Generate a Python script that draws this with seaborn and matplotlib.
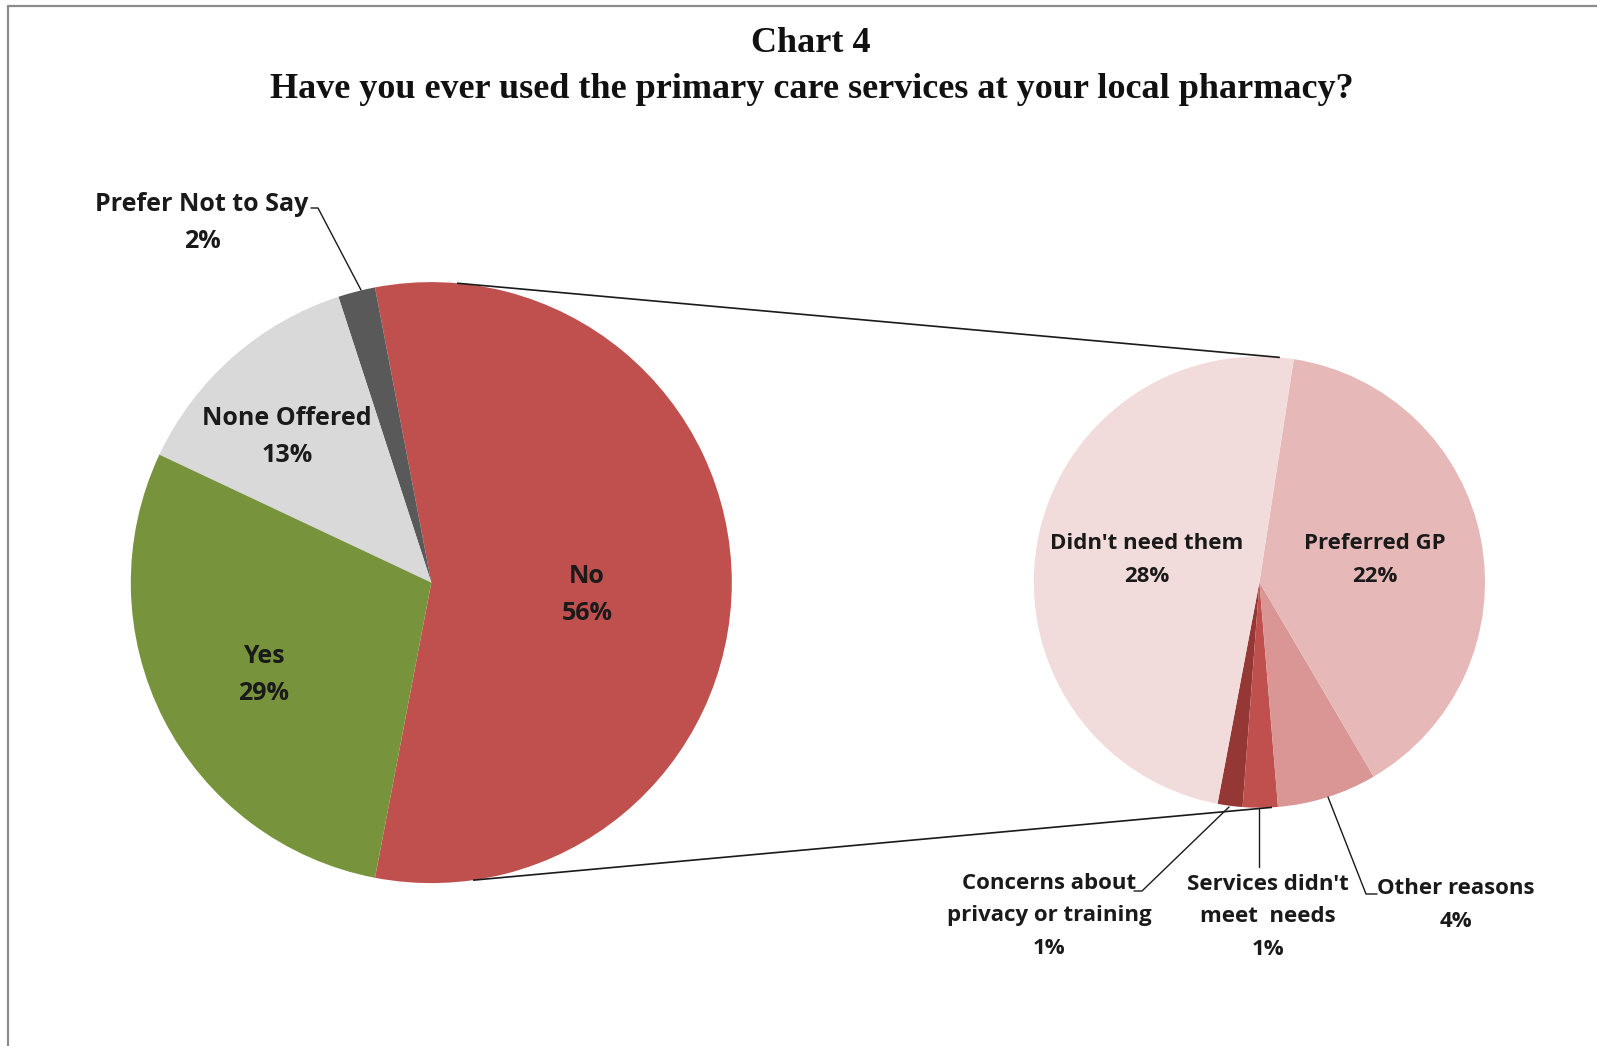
import numpy as np
import matplotlib
matplotlib.use("Agg")
import matplotlib.pyplot as plt
from matplotlib.lines import Line2D
import seaborn as sns

# Survey answers (percent of all respondents)
main_labels = ["No", "Prefer Not to Say", "None Offered", "Yes"]
main_values = [56, 2, 13, 29]
main_colors = ["#C0504D", "#595959", "#D9D9D9", "#77933C"]

# Reasons given by those who answered "No" (percent of all respondents)
sub_labels = ["Concerns about\nprivacy or training", "Services didn't\nmeet  needs",
              "Other reasons", "Preferred GP", "Didn't need them"]
sub_values = [1.0, 1.4, 4.0, 21.9, 27.7]
sub_colors = ["#953735", "#C0504D", "#D99694", "#E6B9B8", "#F2DCDB"]

title_lines = ["Chart 4", "Have you ever used the primary care services at your local pharmacy?"]

W, H = 1597, 1046
sns.set_theme(style="white")
plt.rcParams["font.family"] = ["Open Sans", "DejaVu Sans"]

fig = plt.figure(figsize=(W / 100, H / 100), dpi=100)
ax = fig.add_axes([0, 0, 1, 1])

def Y(py):
    # page rows counted from the top
    return H - py

main_c = (431.3, Y(582.6))
main_r = 300.5
sub_c = (1259.4, Y(582.1))
sub_r = 225.6

main_start = -main_values[0] * 3.6 / 2
ax.pie(main_values, colors=main_colors, startangle=main_start, counterclock=True,
       center=main_c, radius=main_r, frame=True,
       wedgeprops=dict(linewidth=0))
ax.pie(sub_values, colors=sub_colors, startangle=-100.7, counterclock=True,
       center=sub_c, radius=sub_r, frame=True,
       wedgeprops=dict(linewidth=0))

# connectors between the "No" slice and the breakdown pie
def on_circle(c, r, deg):
    a = np.deg2rad(deg)
    return c[0] + r * np.cos(a), c[1] + r * np.sin(a)

for a_main, a_sub in [(85.1, 84.8), (-82.0, -86.8)]:
    p1 = on_circle(main_c, main_r, a_main)
    p2 = on_circle(sub_c, sub_r, a_sub)
    ax.plot([p1[0], p2[0]], [p1[1], p2[1]], color="#1a1a1a", lw=1.2, solid_capstyle="butt")

main_lab = dict(fontsize=18, fontweight="bold", color="#1a1a1a", ha="center", va="center",
                linespacing=1.6)
sub_lab = dict(fontsize=16, fontweight="bold", color="#1a1a1a", ha="center", va="center",
               linespacing=1.7)

def fmt(v):
    return f"{v:.0f}%"

# main pie labels
ax.text(587, Y(595), f"{main_labels[0]}\n{fmt(main_values[0])}", **main_lab)
ax.text(202, Y(223), f"{main_labels[1]}\n{fmt(main_values[1])}", **main_lab)
ax.text(287, Y(437), f"{main_labels[2]}\n{fmt(main_values[2])}", **main_lab)
ax.text(264, Y(675), f"{main_labels[3]}\n{fmt(main_values[3])}", **main_lab)

# sub pie labels
ax.text(1147, Y(560), f"{sub_labels[4]}\n{fmt(sub_values[4])}", **sub_lab)
ax.text(1375, Y(560), f"{sub_labels[3]}\n{fmt(sub_values[3])}", **sub_lab)
ax.text(1049, Y(916), f"{sub_labels[0]}\n{fmt(sub_values[0])}", **sub_lab)
ax.text(1268, Y(917), f"{sub_labels[1]}\n{fmt(sub_values[1])}", **sub_lab)
ax.text(1456, Y(905), f"{sub_labels[2]}\n{fmt(sub_values[2])}", **sub_lab)

# leader lines
leader = dict(color="#1a1a1a", lw=1.0)
ax.plot([311, 318, 361], [Y(208), Y(208), Y(290)], **leader)
ax.plot([1134, 1142, 1229], [Y(891), Y(891), Y(807)], **leader)
ax.plot([1259, 1259], [Y(809), Y(867)], **leader)
ax.plot([1328, 1366, 1377], [Y(797), Y(894), Y(894)], **leader)

# title
ax.text(811, Y(43), title_lines[0], fontsize=26, fontweight="bold", family="Liberation Serif",
        ha="center", va="center", color="#111111")
ax.text(812, Y(90), title_lines[1], fontsize=26, fontweight="bold", family="Liberation Serif",
        ha="center", va="center", color="#111111")

ax.set_xlim(0, W)
ax.set_ylim(0, H)
ax.set_aspect("equal")
ax.set_axis_off()

# chart area frame (top and left edges)
fig.add_artist(Line2D([8 / W, 8 / W], [0, 1 - 6 / H], transform=fig.transFigure, color="#8c8c8c", lw=1.6))
fig.add_artist(Line2D([8 / W, 1], [1 - 6 / H, 1 - 6 / H], transform=fig.transFigure, color="#8c8c8c", lw=1.6))

fig.savefig("out.png", dpi=100, facecolor="white")
